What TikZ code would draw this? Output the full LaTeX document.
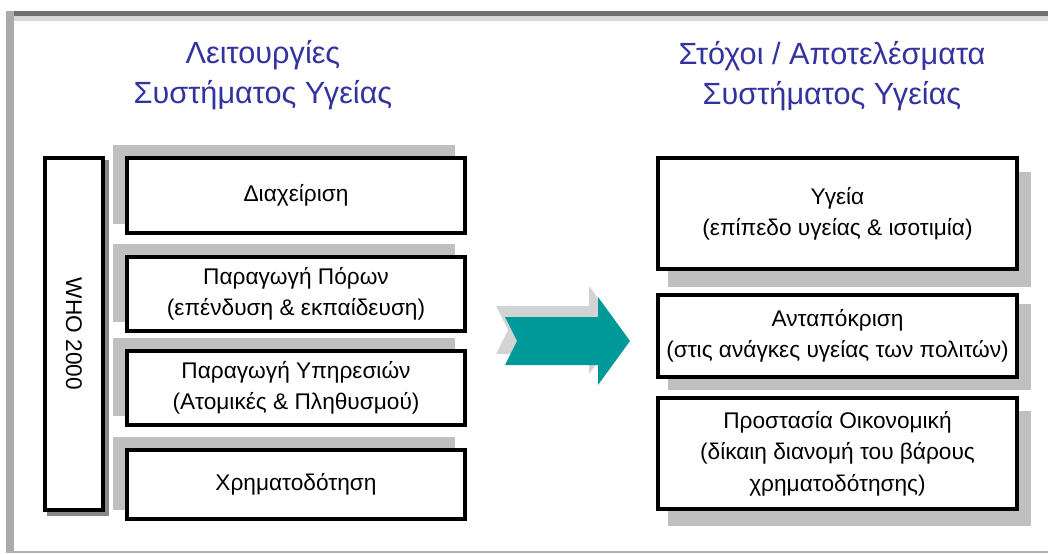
\documentclass[tikz,border=0pt]{standalone}
\usepackage{fontspec}
\setmainfont{Liberation Sans}
\usetikzlibrary{backgrounds}
\definecolor{hdr}{RGB}{51,51,160}
\definecolor{tealc}{RGB}{0,153,153}
\definecolor{shad}{RGB}{192,192,192}
\definecolor{ashad}{RGB}{210,212,212}
\definecolor{vshad}{RGB}{136,136,136}
\begin{document}
\begin{tikzpicture}[x=0.75pt,y=-0.75pt,
  boxtxt/.style={font=\fontsize{17}{23.5}\selectfont, align=center},
  lbox/.style={draw=black, line width=3pt, fill=white, boxtxt,
    minimum width=253.5pt, inner sep=0pt},
  rbox/.style={draw=black, line width=3pt, fill=white, boxtxt,
    minimum width=269.25pt, inner sep=0pt},
  hdrtxt/.style={font=\fontsize{23}{30}\selectfont, text=hdr, align=center}]
\useasboundingbox (0,0) rectangle (1048,553);

% headers
\node[hdrtxt] (hl) at (263,75) {Λειτουργίες\\Συστήματος Υγείας};
\node[hdrtxt] (hr) at (832,76) {Στόχοι / Αποτελέσματα\\Συστήματος Υγείας};

% vertical box
\node[draw=black, line width=3pt, fill=white, rotate=-90, boxtxt,
  minimum width=264pt, minimum height=43.5pt, inner sep=0pt] (vb) at (74,334) {WHO 2000};

% left boxes
\node[lbox, minimum height=56.25pt] (b1) at (296,195.5) {Διαχείριση};
\node[lbox, minimum height=55.5pt] (b2) at (296,294) {Παραγωγή Πόρων\\(επένδυση \& εκπαίδευση)};
\node[lbox, minimum height=55.5pt] (b3) at (296,388) {Παραγωγή Υπηρεσιών\\(Ατομικές \& Πληθυσμού)};
\node[lbox, minimum height=51.75pt] (b4) at (296,484.5) {Χρηματοδότηση};

% right boxes
\node[rbox, minimum height=83.25pt] (r1) at (837.5,213.5) {Υγεία\\(επίπεδο υγείας \& ισοτιμία)};
\node[rbox, minimum height=61.5pt] (r2) at (837.5,336) {Ανταπόκριση\\(στις ανάγκες υγείας των πολιτών)};
\node[rbox, minimum height=83.25pt] (r3) at (837.5,453.5) {Προστασία Οικονομική\\(δίκαιη διανομή του βάρους\\χρηματοδότησης)};

% arrow
\coordinate (at) at (630,341);
\fill[ashad] (496,306) -- (589,306) -- (589,286) -- (621,330) -- (589,374) -- (589,354) -- (496,354) -- (508,330) -- cycle;
\fill[tealc] (505,317) -- (598,317) -- (598,297) -- (at) -- (598,385) -- (598,365) -- (505,365) -- (517,341) -- cycle;

\begin{scope}[on background layer]
  % frame
  \fill[black!56] (10,11) rectangle (1048,16);
  \fill[black!15] (14,16) rectangle (1048,21);
  \fill[black!33] (6,11) rectangle (14,553);
  \fill[black!30] (6,551) rectangle (1048,553);
  % shadows
  \fill[vshad] ([shift={(4,4)}]vb.north east) rectangle ([shift={(4,4)}]vb.south west);
  \foreach \b in {b1,b2,b3,b4}
    \fill[shad] ([shift={(-12,-11)}]\b.north west) rectangle ([shift={(-12,-11)}]\b.south east);
  \fill[shad] ([shift={(12,16)}]r1.north west) rectangle ([shift={(12,16)}]r1.south east);
  \fill[shad] ([shift={(12,11)}]r2.north west) rectangle ([shift={(12,11)}]r2.south east);
  \fill[shad] ([shift={(12,15)}]r3.north west) rectangle ([shift={(12,15)}]r3.south east);
\end{scope}
\end{tikzpicture}
\end{document}
